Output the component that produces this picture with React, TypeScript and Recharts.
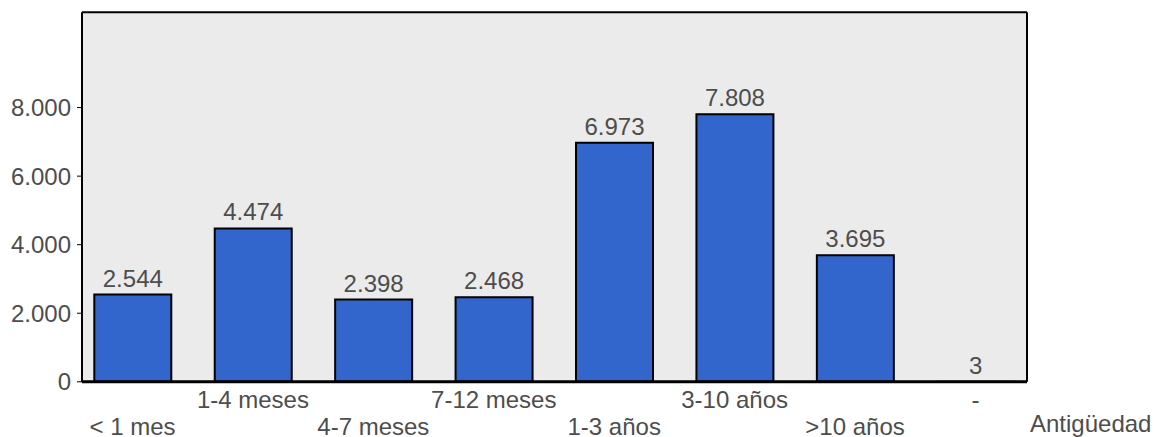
import React from 'react';
import { BarChart, Bar, XAxis, YAxis, CartesianGrid, LabelList } from 'recharts';

const categories = ['< 1 mes', '1-4 meses', '4-7 meses', '7-12 meses', '1-3 años', '3-10 años', '>10 años', '-'];
const values = [2544, 4474, 2398, 2468, 6973, 7808, 3695, 3];
const yTicks = [0, 2000, 4000, 6000, 8000];
const xAxisTitle = 'Antigüedad';

const data = categories.map((c, i) => ({ name: c, value: values[i] }));

const fmt = (v: number) => String(Math.round(v)).replace(/\B(?=(\d{3})+(?!\d))/g, '.');

const FONT = '"Liberation Sans", Arial, sans-serif';
const TXT = '#4d4d4d';
const FS = 24;

const XTick = (props: any) => {
  const { x, y, payload, index } = props;
  const i = payload?.index ?? index ?? 0;
  const by = y + (i % 2 === 1 ? 25.7 : 53);
  return (
    <text x={x} y={by} textAnchor="middle" fill={TXT} fontSize={FS} fontFamily={FONT}>
      {payload.value}
    </text>
  );
};

const AxisTitle = (props: any) => {
  const vb = props.viewBox || {};
  return (
    <text x={vb.x + vb.width + 3} y={vb.y + 50.2} textAnchor="start" fill={TXT} fontSize={FS} fontFamily={FONT}>
      {xAxisTitle}
    </text>
  );
};

export default function App() {
  return (
    <div style={{ position: 'absolute', left: 0, top: 0, width: 1154, height: 437, background: '#fff' }}>
      <BarChart width={1154} height={437} data={data} margin={{ top: 12.3, right: 127, bottom: 0, left: 0 }}>
        <CartesianGrid
          fill="#ebebeb"
          stroke="#000"
          strokeWidth={2}
          horizontalCoordinatesGenerator={(p: any) => [p.offset.top]}
          verticalCoordinatesGenerator={(p: any) => [p.offset.left + p.offset.width]}
        />
        <XAxis
          dataKey="name"
          height={55.2}
          padding={{ left: -9.7, right: -8.7 }}
          tickSize={0}
          tickMargin={0}
          tickLine={false}
          axisLine={{ stroke: '#000', strokeWidth: 3 }}
          tick={<XTick />}
          interval={0}
          label={<AxisTitle />}
        />
        <YAxis
          width={82}
          domain={[0, 10780]}
          ticks={yTicks}
          tickFormatter={fmt}
          tickSize={5}
          tickMargin={6}
          tickLine={{ stroke: '#000', strokeWidth: 1 }}
          axisLine={{ stroke: '#000', strokeWidth: 2 }}
          tick={{ fill: TXT, fontSize: FS, fontFamily: FONT }}
          allowDataOverflow
        />
        <Bar
          dataKey="value"
          fill="#3366cc"
          stroke="#000"
          strokeWidth={2}
          barSize={77}
          isAnimationActive={false}
        >
          <LabelList dataKey="value" position="top" offset={8} formatter={(v: any) => fmt(Number(v))} fill={TXT} fontSize={FS} fontFamily={FONT} />
        </Bar>
      </BarChart>
    </div>
  );
}
